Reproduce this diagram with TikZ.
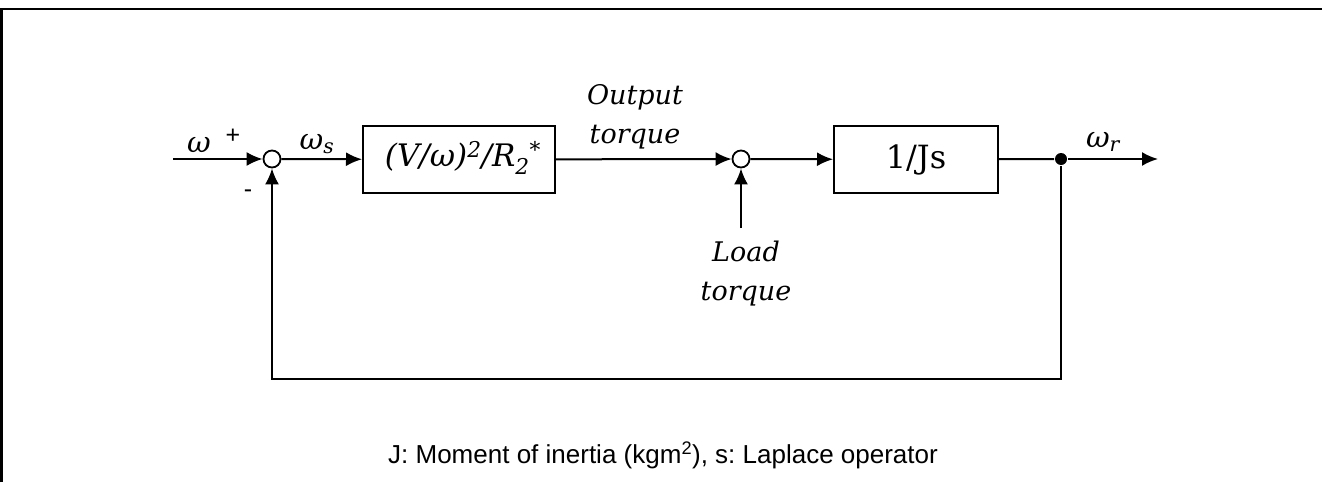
\documentclass[tikz,border=0pt]{standalone}
\usepackage{fontspec}
\setmainfont{DejaVu Serif}
\newfontfamily\arialf{Liberation Sans}
\usetikzlibrary{arrows.meta}
\frenchspacing

\begin{document}
\begin{tikzpicture}[x=1pt,y=-1pt,line width=2pt,
  sig/.style={-{Latex[length=16pt,width=14pt]}},
  sumpt/.style={circle,draw,line width=1.8pt,fill=white,minimum size=17pt,inner sep=0pt},
  blk/.style={draw,line width=2pt,inner sep=0pt},
  lbl/.style={font=\fontsize{27}{39}\selectfont\itshape,align=center,inner sep=0pt},
  sig lbl/.style={font=\fontsize{29}{32}\selectfont\itshape,inner sep=0pt},
  sgn/.style={font=\arialf\fontsize{25}{28}\selectfont,inner sep=0pt}]
\useasboundingbox (0,0) rectangle (1322,482);
\draw[line width=2.8pt] (1.4,482) |- (1322,9);

% blocks and junctions
\node[sumpt] (s1) at (272,159) {};
\node[blk,minimum width=192pt,minimum height=67pt] (g1) at (459,159.5) {};
\node[sumpt] (s2) at (741,159) {};
\node[blk,minimum width=164pt,minimum height=67pt] (g2) at (916,159.5) {};
\node[circle,fill,minimum size=12pt,inner sep=0pt] (dot) at (1061,159) {};
\coordinate (in) at (173,159);
\coordinate (out) at (1158,159);
\coordinate (load) at (741,228);
\coordinate (fb) at (272,379);

\node[font=\fontsize{31}{34}\selectfont\itshape,inner sep=0pt] (f1) at (463,158) {(V/ω)\textsuperscript{2}/R\textsubscript{2}\textsuperscript{*}};
\node[font=\fontsize{32}{34}\selectfont,inner sep=0pt] (f2) at (g2) {1/Js};

% signals
\draw[sig] (in) -- (s1);
\draw[sig] (s1) -- (g1);
\draw[sig] (g1) -- (s2);
\draw[sig] (load) -- (s2);
\draw[sig] (s2) -- (g2);
\draw (g2) -- (dot);
\draw[sig] (dot) -- (out);
\draw[sig] (dot) |- (fb) -- (s1);

% labels
\node[sig lbl] (lw) at (199,145) {ω};
\node[sgn] (lplus) at (233,136) {+};
\node[sgn] (lminus) at (248,194) {-};
\node[sig lbl] (lws) at (317,144) {ω\textsubscript{s}};
\node[lbl] (lout) at (635,117) {Output\\torque};
\node[lbl] (lload) at (746,274) {Load\\torque};
\node[sig lbl] (lwr) at (1103,142) {ω\textsubscript{r}};
\node[font=\arialf\fontsize{26}{30}\selectfont,inner sep=0pt] (note) at (663,455) {J: Moment of inertia (kgm\textsuperscript{2}), s: Laplace operator};
\end{tikzpicture}
\end{document}
